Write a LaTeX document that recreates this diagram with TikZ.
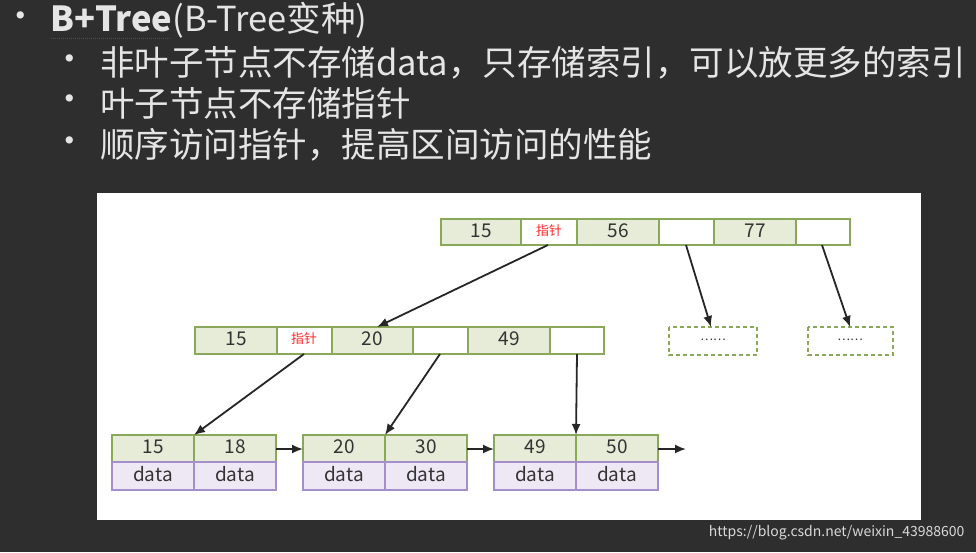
\documentclass[tikz,border=0pt]{standalone}
\usepackage{fontspec}
\setmainfont{Noto Sans CJK SC}
\newfontfamily\cjk{Noto Sans CJK SC}
\definecolor{gb}{HTML}{8AA85A}
\definecolor{gf}{HTML}{E6ECD8}
\definecolor{pb}{HTML}{A58FCB}
\definecolor{pf}{HTML}{EEE8F5}
\begin{document}
\begin{tikzpicture}[x=1pt,y=-1pt,
  gcell/.style={draw=gb,line width=2.2pt,fill=gf},
  wcell/.style={draw=gb,line width=2.2pt,fill=white},
  pcell/.style={draw=pb,line width=2.2pt,fill=pf},
  dbox/.style={draw=gb,line width=2pt,dash pattern=on 4pt off 3pt,fill=white},
  arr/.style={-{Latex[length=11pt,width=9pt]},line width=1.8pt,black!85},
  num/.style={font=\fontsize{19}{19}\selectfont,text=black!80},
  ptr/.style={font=\fontsize{13}{13}\selectfont,text=red!85},
  bul/.style={anchor=west,text=white!90!black,font=\fontsize{34.5}{36}\selectfont}]
\usetikzlibrary{arrows.meta}
\fill[black!82] (0,0) rectangle (976,552);
\useasboundingbox (0,0) rectangle (976,552);
\fill[white] (97,193) rectangle (921,520);
% text
\node[bul,inner sep=0] (b0) at (3,20) {•};
\node[bul,inner sep=0] (t0) at (50,20) {\textbf{B+Tree}(B-Tree变种)};
\draw[red,densely dotted,line width=1pt] (51,38) -- (171,38);
\node[bul,inner sep=0] (b1) at (52,63) {•};
\node[bul,inner sep=0] (t1) at (100,63) {非叶子节点不存储data，只存储索引，可以放更多的索引};
\node[bul,inner sep=0] (b2) at (52,103) {•};
\node[bul,inner sep=0] (t2) at (100,103) {叶子节点不存储指针};
\node[bul,inner sep=0] (b3) at (52,145) {•};
\node[bul,inner sep=0] (t3) at (100,145) {顺序访问指针，提高区间访问的性能};
% top node
\path[gcell] (441,219) rectangle (521,245); \node[num] (r1) at (481,231) {15};
\path[wcell] (521,219) rectangle (577,245); \node[ptr] (rp) at (549,231) {指针};
\path[gcell] (577,219) rectangle (659,245); \node[num] (r2) at (618,231) {56};
\path[wcell] (659,219) rectangle (714,245); \coordinate (re1) at (686,245);
\path[gcell] (714,219) rectangle (796,245); \node[num] (r3) at (755,231) {77};
\path[wcell] (796,219) rectangle (850,245); \coordinate (re2) at (822,245);
% middle
\path[gcell] (195,327) rectangle (277,354); \node[num] (m1) at (236,339) {15};
\path[wcell] (277,327) rectangle (332,354); \node[ptr] (mp) at (304,339) {指针};
\path[gcell] (332,327) rectangle (413,354); \node[num] (m2) at (372,339) {20};
\path[wcell] (413,327) rectangle (468,354); \coordinate (me1) at (440,354);
\path[gcell] (468,327) rectangle (550,354); \node[num] (m3) at (509,339) {49};
\path[wcell] (550,327) rectangle (604,354); \coordinate (me2) at (577,354);
% dashed
\path[dbox] (669,327) rectangle (757,355); \node[num,font=\fontsize{12}{12}\selectfont] (d1) at (713,340) {……};
\path[dbox] (808,327) rectangle (893,355); \node[num,font=\fontsize{12}{12}\selectfont] (d2) at (850,340) {……};
% leaves
\foreach \x/\a/\b [count=\i] in {112/15/18,303/20/30,494/49/50}{
  \path[gcell] (\x,435) rectangle ++(82,27);
  \path[gcell] (\x+82,435) rectangle ++(82,27);
  \path[pcell] (\x,462) rectangle ++(82,28);
  \path[pcell] (\x+82,462) rectangle ++(82,28);
  \node[num] (la\i) at (\x+41,447) {\a};
  \node[num] (lb\i) at (\x+123,447) {\b};
  \node[num] (da\i) at (\x+41,474) {data};
  \node[num] (db\i) at (\x+123,474) {data};
  \coordinate (lt\i) at (\x,449);
  \coordinate (lr\i) at (\x+164,449);
  \coordinate (lm\i) at (\x+82,435);
}
\coordinate (end) at (686,449);
\coordinate (rpb) at (548,245); \coordinate (m2t) at (377,327);
\coordinate (mpb) at (304,354);
\coordinate (d1t) at (711,327); \coordinate (d2t) at (850,327);
\draw[arr] (rpb) -- (m2t);
\draw[arr] (re1) -- (d1t);
\draw[arr] (re2) -- (d2t);
\draw[arr] (mpb) -- (lm1);
\draw[arr] (me1) -- (lm2);
\draw[arr] (me2) -- (lm3);
\draw[arr] (lr1) -- (lt2);
\draw[arr] (lr2) -- (lt3);
\draw[arr] (lr3) -- (end);
\node[anchor=east,text=white!85!black,font=\fontsize{14}{14}\selectfont] (wm) at (968,533) {https://blog.csdn.net/weixin\_43988600};
\end{tikzpicture}
\end{document}
